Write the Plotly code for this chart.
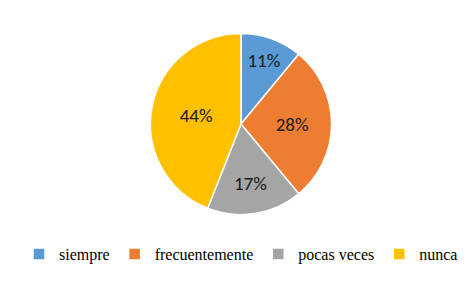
import plotly.graph_objects as go

categories = ["siempre", "frecuentemente", "pocas veces", "nunca"]
values = [11, 28, 17, 44]
colors = ["#5B9BD5", "#ED7D31", "#A5A5A5", "#FFC000"]

fig = go.Figure(go.Pie(
    labels=categories,
    values=values,
    sort=False,
    direction="clockwise",
    rotation=0,
    marker=dict(colors=colors, line=dict(color="white", width=1.5)),
    texttemplate="%{percent:.0%}",
    textposition="inside",
    insidetextorientation="horizontal",
    textfont=dict(family="Carlito, Lato, Liberation Sans, sans-serif", size=19, color="#1a1a1a"),
    domain=dict(x=[0.0, 1.0], y=[0.27, 0.91]),
    hoverinfo="label+percent",
))

fig.update_layout(
    width=466, height=283,
    margin=dict(l=0, r=0, t=0, b=0),
    paper_bgcolor="white",
    plot_bgcolor="white",
    font=dict(family="Liberation Serif, DejaVu Serif, serif"),
    showlegend=True,
    legend=dict(
        orientation="h",
        x=0.5, xanchor="center",
        y=0.13, yanchor="middle",
        font=dict(family="Liberation Serif, DejaVu Serif, serif", size=16, color="#000"),
        itemwidth=30,
        tracegroupgap=0,
    ),
)

fig.write_html("out.html")
